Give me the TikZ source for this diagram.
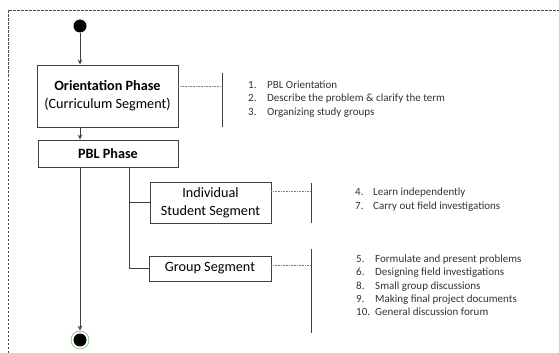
\documentclass[tikz,border=0pt]{standalone}
\usepackage{fontspec}
\setmainfont{Carlito}
\usetikzlibrary{arrows.meta}
\definecolor{ringgreen}{HTML}{8FCF8F}
\definecolor{linegray}{HTML}{404040}

\begin{document}
\begin{tikzpicture}[x=1pt,y=-1pt,>={Stealth[length=5pt,width=4.5pt]},
  phase/.style={draw=linegray, line width=0.9pt, inner sep=0pt, align=center,
    font=\fontsize{14.2}{18}\selectfont},
  flow/.style={draw=linegray, line width=0.9pt},
  dotlink/.style={draw=gray, line width=0.6pt, dash pattern=on 1pt off 0.6pt},
  item/.style={anchor=west, inner sep=0pt, text height=7.5pt, text depth=2.5pt,
    text=black!80, font=\fontsize{11}{13}\selectfont}]
  \useasboundingbox (0,0) rectangle (559,353);
  % frame (open to the right and bottom)
  \draw[gray!60!black, line width=0.7pt, dash pattern=on 2.5pt off 1.5pt]
    (8,353) -- (8,10) -- (559,10);

  % nodes of the flow
  \node[circle, fill, inner sep=0pt, minimum size=13pt] (start) at (80,26) {};
  \node[phase, minimum width=141pt, minimum height=62pt] (orient) at (107.5,96)
    {\textbf{Orientation Phase}\\(Curriculum Segment)};
  \node[phase, minimum width=140pt, minimum height=27pt] (pbl) at (108,153.5)
    {\textbf{PBL Phase}};
  \node[phase, minimum width=121pt, minimum height=41pt] (indiv) at (210.5,202.5)
    {Individual\\Student Segment};
  \node[phase, minimum width=122pt, minimum height=25pt] (group) at (210,268.5)
    {Group Segment};
  \node[circle, draw=ringgreen, line width=0.8pt, inner sep=0pt, minimum size=18pt] (stop) at (80,340) {};
  \fill (stop) circle (6.5pt);

  % arrows and the fork
  \coordinate (fork) at (129,0);
  \draw[flow,->] (start) -- (start |- orient.north);
  \draw[flow,->] (start |- orient.south) -- (start |- pbl.north);
  \draw[flow,->] (start |- pbl.south) -- (stop.north);
  \draw[flow] (pbl.south -| fork) |- (indiv.west);
  \draw[flow] (pbl.south -| fork) |- (group.west);

  % notes beside each phase
  \coordinate (bar1) at (222,100);
  \coordinate (bar2) at (311,203);
  \coordinate (bar3) at (311,291);
  \draw[dotlink] ([yshift=10pt]orient.east) -- ++(44,0);
  \draw[dotlink] ([yshift=11.5pt]indiv.east) -- ++(40,0);
  \draw[dotlink] ([yshift=3.5pt]group.east) -- ++(40,0);
  \draw[flow, line width=0.7pt] (bar1) ++(0,-27) -- ++(0,54);
  \draw[flow, line width=0.7pt] (bar2) ++(0,-20) -- ++(0,40);
  \draw[flow, line width=0.7pt] (bar3) ++(0,-42) -- ++(0,84);

  \foreach \n/\t [count=\i] in {1/PBL Orientation,
      2/Describe the problem \& clarify the term,
      3/Organizing study groups}{
    \node[item] (on\i) at (248,72.7+13.3*\i) {\n.};
    \node[item] (ot\i) at (267,72.7+13.3*\i) {\t};
  }
  \foreach \n/\t [count=\i] in {4/Learn independently,
      7/Carry out field investigations}{
    \node[item] (in\i) at (355,179.5+13.5*\i) {\n.};
    \node[item] (it\i) at (373,179.5+13.5*\i) {\t};
  }
  \foreach \n/\t [count=\i] in {5/Formulate and present problems,
      6/Designing field investigations,
      8/Small group discussions,
      9/Making final project documents,
      10/General discussion forum}{
    \node[item] (gn\i) at (356,246.7+13.3*\i) {\n.};
    \node[item] (gt\i) at (375,246.7+13.3*\i) {\t};
  }
\end{tikzpicture}
\end{document}
